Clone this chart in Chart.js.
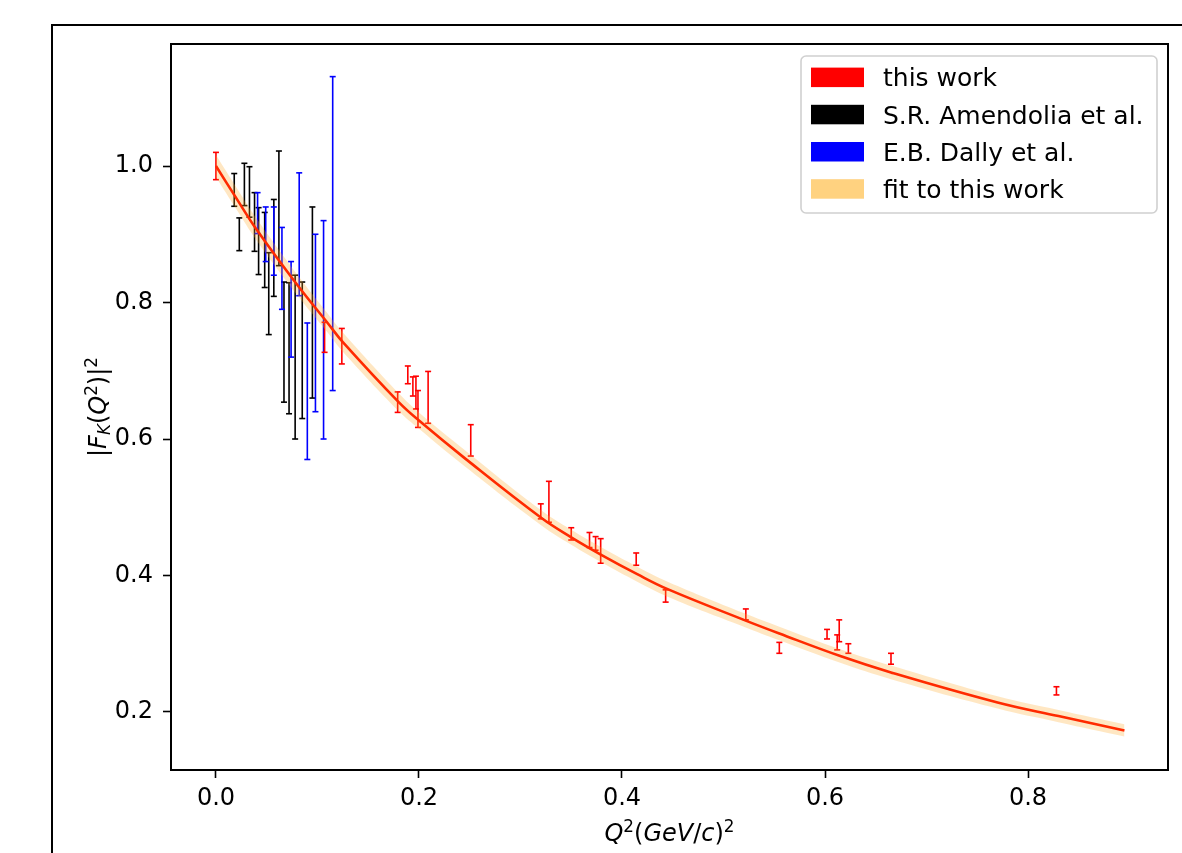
<!DOCTYPE html>
<html>
<head>
<meta charset="utf-8">
<title>Kaon form factor</title>
<script src="https://cdn.jsdelivr.net/npm/chart.js@4.4.1/dist/chart.umd.min.js"></script>
<style>
  html, body { margin: 0; padding: 0; background: #fff; overflow: hidden; }
  #wrap { position: relative; width: 1182px; height: 853px; overflow: hidden; }
  #frame { position: absolute; left: 51px; top: 24px; width: 1300px; height: 1000px; border: 2px solid #000; }
  #chart { position: absolute; left: 0; top: 0; }
</style>
</head>
<body>
<div id="wrap">
  <div id="frame"></div>
  <canvas id="chart" width="1182" height="853"></canvas>
</div>
<script>
// this work
const thisQ2 = [0.000, 0.107, 0.124, 0.179, 0.189, 0.194, 0.197, 0.199, 0.209, 0.251,
  0.320, 0.328, 0.350, 0.368, 0.374, 0.379, 0.414, 0.443, 0.522, 0.555,
  0.602, 0.612, 0.614, 0.623, 0.665, 0.828];
const thisF = [1.000, 0.749, 0.736, 0.654, 0.694, 0.677, 0.668, 0.644, 0.661, 0.598,
  0.494, 0.508, 0.461, 0.452, 0.447, 0.436, 0.424, 0.370, 0.343, 0.294,
  0.314, 0.302, 0.319, 0.293, 0.278, 0.231];
const thisErr = [0.020, 0.022, 0.026, 0.015, 0.013, 0.014, 0.024, 0.027, 0.038, 0.023,
  0.011, 0.030, 0.009, 0.011, 0.010, 0.018, 0.009, 0.009, 0.008, 0.008,
  0.007, 0.011, 0.016, 0.007, 0.008, 0.006];

// S.R. Amendolia et al.
const amendQ2 = [0.018, 0.023, 0.028, 0.033, 0.038, 0.042, 0.048, 0.052, 0.057, 0.062,
  0.067, 0.072, 0.078, 0.085, 0.095];
const amendF = [0.965, 0.900, 0.973, 0.962, 0.918, 0.890, 0.877, 0.813, 0.880, 0.938,
  0.742, 0.733, 0.720, 0.730, 0.800];
const amendErr = [0.024, 0.024, 0.031, 0.037, 0.043, 0.049, 0.055, 0.060, 0.071, 0.084,
  0.088, 0.096, 0.120, 0.100, 0.140];

// E.B. Dally et al.
const dallyQ2 = [0.041, 0.049, 0.057, 0.065, 0.074, 0.082, 0.090, 0.098, 0.106, 0.115];
const dallyF = [0.931, 0.900, 0.890, 0.850, 0.790, 0.900, 0.670, 0.770, 0.760, 0.901];
const dallyErr = [0.030, 0.040, 0.050, 0.060, 0.070, 0.090, 0.100, 0.130, 0.160, 0.230];

// fit to this work and half width of its band
const fitQ2 = [0.000, 0.020, 0.040, 0.080, 0.110, 0.125, 0.180, 0.200, 0.245, 0.320,
  0.350, 0.380, 0.415, 0.445, 0.520, 0.555, 0.615, 0.665, 0.770, 0.830, 0.895];
const fitF = [1.000, 0.953, 0.907, 0.826, 0.770, 0.742, 0.654, 0.627, 0.572, 0.485,
  0.456, 0.430, 0.402, 0.380, 0.335, 0.315, 0.282, 0.258, 0.214, 0.194, 0.173];
const fitBand = [0.016, 0.016, 0.016, 0.015, 0.014, 0.014, 0.013, 0.012, 0.012, 0.011,
  0.011, 0.011, 0.011, 0.011, 0.010, 0.010, 0.010, 0.010, 0.009, 0.009, 0.009];

const seriesNames = ['this work', 'S.R. Amendolia et al.', 'E.B. Dally et al.', 'fit to this work'];
const seriesColors = ['#ff0000', '#000000', '#0000ff', '#ffd280'];

const xTicks = [0.0, 0.2, 0.4, 0.6, 0.8];
const yTicks = [0.2, 0.4, 0.6, 0.8, 1.0];

const xTitle = [
  { t: 'Q', it: true }, { t: '2', sup: true }, { t: '(' }, { t: 'GeV', it: true },
  { t: '/' }, { t: 'c', it: true }, { t: ')' }, { t: '2', sup: true },
];
const yTitle = [
  { t: '|' }, { t: 'F', it: true }, { t: 'K', it: true, sub: true }, { t: '(' },
  { t: 'Q', it: true }, { t: '2', sup: true }, { t: ')' }, { t: '|' }, { t: '2', sup: true },
];

const FONT = '"DejaVu Sans", sans-serif';

const errorSegments = (q, f, e) => q.flatMap((x, i) => [
  { x, y: f[i] - e[i] }, { x, y: f[i] + e[i] }, { x, y: null },
]);

const errorDataset = (label, q, f, e, color, order) => ({
  label,
  data: errorSegments(q, f, e),
  borderColor: color,
  borderWidth: 1.6,
  pointStyle: 'line',
  pointRadius: 3,
  pointBorderWidth: 1.6,
  pointBorderColor: color,
  pointBackgroundColor: color,
  spanGaps: false,
  fill: false,
  order,
});

const fontFor = (r, size) => `${r.it ? 'italic ' : ''}${(r.sup || r.sub) ? size * 0.7 : size}px ${FONT}`;

function drawMath(ctx, runs, size, cx, baseY) {
  const widths = runs.map((r) => { ctx.font = fontFor(r, size); return ctx.measureText(r.t).width; });
  const total = widths.reduce((a, b) => a + b, 0);
  let x = cx - total / 2;
  runs.forEach((r, i) => {
    ctx.font = fontFor(r, size);
    const dy = r.sup ? -size * 0.38 : (r.sub ? size * 0.16 : 0);
    ctx.fillText(r.t, x, baseY + dy);
    x += widths[i];
  });
}

const framePlugin = {
  id: 'framePlugin',
  afterDraw(chart) {
    const { ctx, chartArea: a } = chart;
    ctx.save();
    ctx.strokeStyle = '#000';
    ctx.lineWidth = 2;
    ctx.strokeRect(a.left, a.top, a.right - a.left, a.bottom - a.top);

    // axis titles
    ctx.fillStyle = '#000';
    ctx.textBaseline = 'alphabetic';
    ctx.textAlign = 'left';
    drawMath(ctx, xTitle, 24, (a.left + a.right) / 2, 841);
    ctx.translate(106, (a.top + a.bottom) / 2);
    ctx.rotate(-Math.PI / 2);
    drawMath(ctx, yTitle, 24, 0, 0);
    ctx.restore();

    // legend
    ctx.save();
    const right = a.right - 11;
    const top = a.top + 12;
    const w = 356;
    const h = 157;
    const left = right - w;
    const r = 5;
    ctx.beginPath();
    ctx.moveTo(left + r, top);
    ctx.arcTo(right, top, right, top + h, r);
    ctx.arcTo(right, top + h, left, top + h, r);
    ctx.arcTo(left, top + h, left, top, r);
    ctx.arcTo(left, top, right, top, r);
    ctx.closePath();
    ctx.fillStyle = 'rgba(255,255,255,0.85)';
    ctx.fill();
    ctx.strokeStyle = '#d0d0d0';
    ctx.lineWidth = 1.6;
    ctx.stroke();
    seriesNames.forEach((name, i) => {
      const cy = top + 21.3 + i * 37.2;
      ctx.fillStyle = seriesColors[i];
      ctx.fillRect(left + 10, cy - 9.7, 53, 19.5);
      ctx.fillStyle = '#000';
      ctx.font = `25px ${FONT}`;
      ctx.textBaseline = 'alphabetic';
      ctx.fillText(name, left + 82, cy + 9);
    });
    ctx.restore();
  },
};

const chart = new Chart(document.getElementById('chart'), {
  type: 'line',
  data: {
    datasets: [
      errorDataset(seriesNames[1], amendQ2, amendF, amendErr, '#000000', 4),
      errorDataset(seriesNames[2], dallyQ2, dallyF, dallyErr, '#0000ff', 3),
      errorDataset(seriesNames[0], thisQ2, thisF, thisErr, '#ff0000', 2),
      {
        label: 'band low',
        data: fitQ2.map((x, i) => ({ x, y: fitF[i] - fitBand[i] })),
        borderWidth: 0,
        pointRadius: 0,
        tension: 0.4,
        fill: false,
        order: 1,
      },
      {
        label: seriesNames[3],
        data: fitQ2.map((x, i) => ({ x, y: fitF[i] + fitBand[i] })),
        borderWidth: 0,
        pointRadius: 0,
        tension: 0.4,
        fill: '-1',
        backgroundColor: 'rgba(255,170,40,0.28)',
        order: 1,
      },
      {
        label: 'fit',
        data: fitQ2.map((x, i) => ({ x, y: fitF[i] })),
        borderColor: '#ff2a00',
        borderWidth: 2.6,
        pointRadius: 0,
        tension: 0.4,
        fill: false,
        order: 0,
      },
    ],
  },
  options: {
    responsive: false,
    animation: false,
    devicePixelRatio: 1,
    layout: { padding: { left: 0, top: 44, right: 14, bottom: 0 } },
    plugins: { legend: { display: false }, tooltip: { enabled: false } },
    scales: {
      x: {
        type: 'linear',
        min: -0.0443,
        max: 0.9379,
        afterBuildTicks: (s) => { s.ticks = xTicks.map((v) => ({ value: v })); },
        afterFit: (s) => { s.height = 83; },
        grid: { drawOnChartArea: false, drawTicks: true, tickLength: 8, tickWidth: 1.6, tickColor: '#000' },
        border: { display: true, color: '#000', width: 2 },
        ticks: {
          color: '#000',
          font: { family: FONT, size: 24 },
          padding: 6,
          maxRotation: 0,
          autoSkip: false,
          callback: (v) => Number(v).toFixed(1),
        },
      },
      y: {
        type: 'linear',
        min: 0.1150,
        max: 1.1788,
        afterBuildTicks: (s) => { s.ticks = yTicks.map((v) => ({ value: v })); },
        afterFit: (s) => { s.width = 171; },
        grid: { drawOnChartArea: false, drawTicks: true, tickLength: 8, tickWidth: 1.6, tickColor: '#000' },
        border: { display: true, color: '#000', width: 2 },
        ticks: {
          color: '#000',
          font: { family: FONT, size: 24 },
          padding: 10,
          autoSkip: false,
          callback: (v) => Number(v).toFixed(1),
        },
      },
    },
  },
  plugins: [framePlugin],
});
</script>
</body>
</html>
